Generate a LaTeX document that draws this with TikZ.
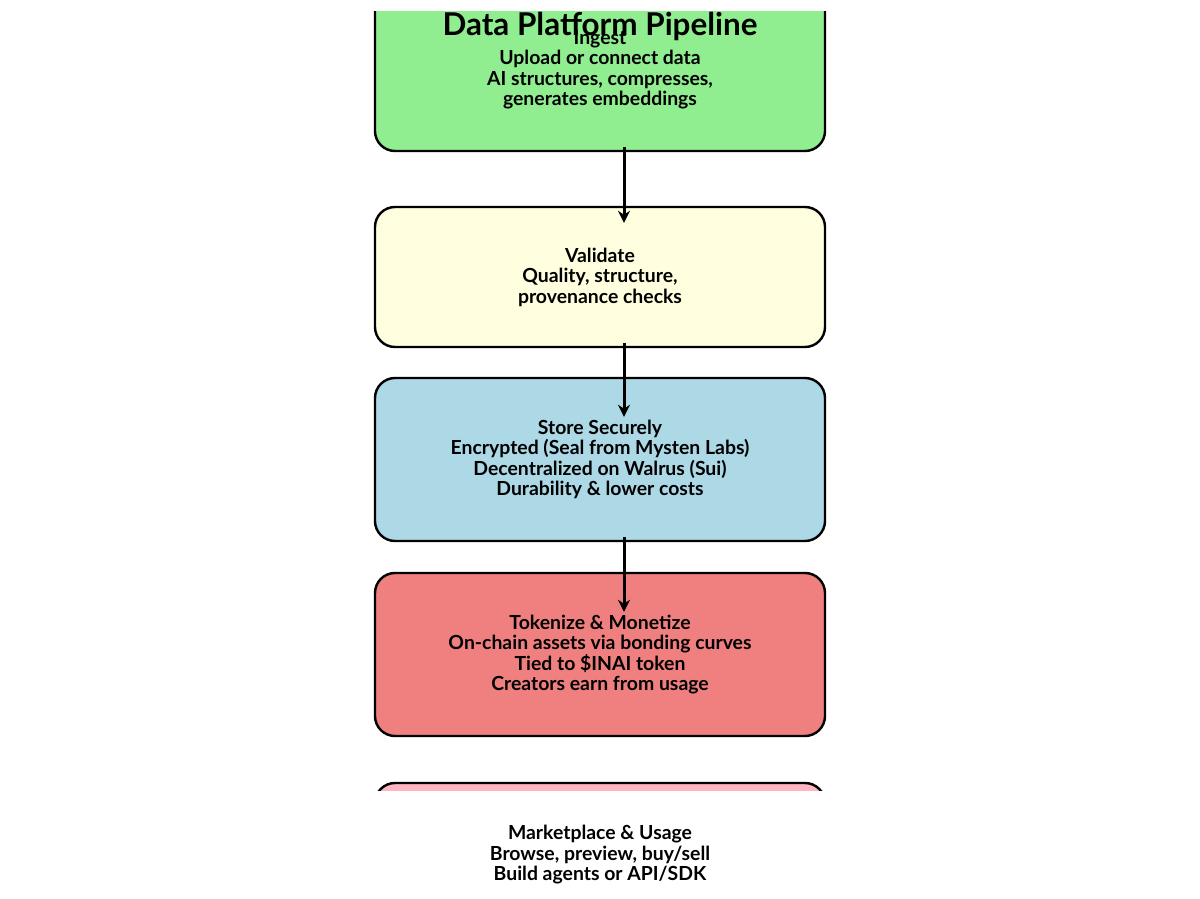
\documentclass[tikz,border=0pt]{standalone}
\usepackage{fontspec}
\setmainfont{Lato}
\usetikzlibrary{arrows.meta}
\usepackage{xcolor}

\definecolor{ingestgreen}{HTML}{90EE90}
\definecolor{validateyellow}{HTML}{FFFFE0}
\definecolor{storeblue}{HTML}{ADD8E6}
\definecolor{tokenred}{HTML}{F08080}
\definecolor{marketpink}{HTML}{FFB6C1}

\begin{document}
\begin{tikzpicture}[x=0.5pt, y=-0.5pt]
        % ================= 样式定义 =================
        \tikzset{
            % 圆角阶段框
            stage/.style={rectangle, draw=black, line width=1.2pt, rounded corners=10pt, minimum width=225pt, inner sep=0pt},
            % 框内文字
            stage_text/.style={align=center, font=\bfseries\fontsize{9.7}{10.25}\selectfont, inner sep=0pt},
            % 流程箭头
            flow_arrow/.style={line width=1.5pt, -{Stealth[length=6pt, width=6pt]}}
        }

        % ================= 画布 =================
        \useasboundingbox (0,0) rectangle (1200,899);
        \fill[white] (0,0) rectangle (1200,899);

        % ================= 坐标定义 =================
        \coordinate (ingest_c) at (600, 69.5);
        \coordinate (validate_c) at (600, 277);
        \coordinate (store_c) at (600, 459.5);
        \coordinate (tokenize_c) at (600, 654.5);
        \coordinate (market_c) at (600, 855);

        % ================= 阶段框 (绘图区裁剪) =================
        \begin{scope}
            \clip (0,12) rectangle (1200,790);
            \node[stage, fill=ingestgreen, minimum height=81.5pt] (ingest) at (ingest_c) {};
            \node[stage, fill=validateyellow, minimum height=70pt] (validate) at (validate_c) {};
            \node[stage, fill=storeblue, minimum height=81.5pt] (store) at (store_c) {};
            \node[stage, fill=tokenred, minimum height=81.5pt] (tokenize) at (tokenize_c) {};
            \node[stage, fill=marketpink, minimum height=72pt] (market) at (market_c) {};

            % 箭头终点
            \coordinate (a1_end) at ([xshift=12pt, yshift=-8.5pt]validate.north);
            \coordinate (a2_end) at ([xshift=12pt, yshift=-20pt]store.north);
            \coordinate (a3_end) at ([xshift=12pt, yshift=-20pt]tokenize.north);

            % ================= 绘制连边 =================
            \draw[flow_arrow] ([xshift=12pt, yshift=2.5pt]ingest.south) -- (a1_end);
            \draw[flow_arrow] ([xshift=12pt, yshift=2.5pt]validate.south) -- (a2_end);
            \draw[flow_arrow] ([xshift=12pt, yshift=2.5pt]store.south) -- (a3_end);
        \end{scope}

        % ================= 文字 =================
        \node[stage_text] (ingest_t) at (ingest_c) {Ingest\\Upload or connect data\\AI structures, compresses,\\generates embeddings};
        \node[stage_text] (validate_t) at (validate_c) {Validate\\Quality, structure,\\provenance checks};
        \node[stage_text] (store_t) at (store_c) {Store Securely\\Encrypted (Seal from Mysten Labs)\\Decentralized on Walrus (Sui)\\Durability \& lower costs};
        \node[stage_text] (tokenize_t) at (tokenize_c) {Tokenize \& Monetize\\On-chain assets via bonding curves\\Tied to \$INAI token\\Creators earn from usage};
        \node[stage_text] (market_t) at (market_c) {Marketplace \& Usage\\Browse, preview, buy/sell\\Build agents or API/SDK};

        % 标题
        \node[font=\bfseries\fontsize{15.7}{18}\selectfont, inner sep=0pt] (title) at (600, 26) {Data Platform Pipeline};

    \end{tikzpicture}
\end{document}
